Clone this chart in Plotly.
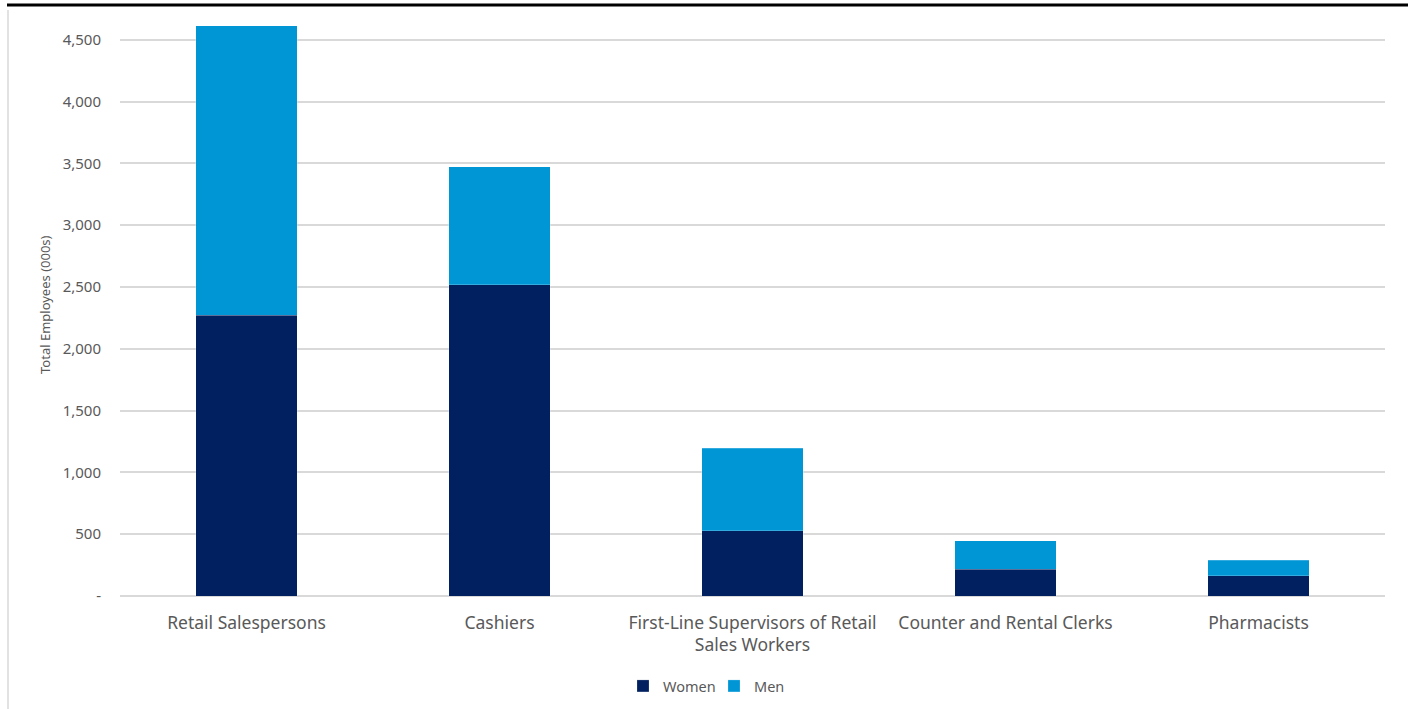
import plotly.graph_objects as go

categories = ["Retail Salespersons", "Cashiers", "First-Line Supervisors of Retail<br>Sales Workers",
              "Counter and Rental Clerks", "Pharmacists"]
women = [2273, 2516, 526, 218, 162]
men_total = [4612, 3471, 1197, 445, 291]
men = [t - w for t, w in zip(men_total, women)]
tick_vals = [0, 500, 1000, 1500, 2000, 2500, 3000, 3500, 4000, 4500]
tick_text = ["-", "500", "1,000", "1,500", "2,000", "2,500", "3,000", "3,500", "4,000", "4,500"]

FONT = "Noto Sans, Open Sans, sans-serif"
GRAY = "#595959"

fig = go.Figure()
fig.add_trace(go.Bar(name="Women", x=categories, y=women,
                     marker=dict(color="#002060", line=dict(color="rgba(255,255,255,0.4)", width=0.5))))
fig.add_trace(go.Bar(name="Men", x=categories, y=men,
                     marker=dict(color="#0096D6", line=dict(color="rgba(255,255,255,0.4)", width=0.5))))

L, R, T, B = 120, 30, 15, 113
W, H = 1415, 709
pw = W - L - R
ph = H - T - B

def px(x):
    return (x - L) / pw

def py(y):
    return (H - B - y) / ph

fig.update_layout(
    barmode="stack",
    bargap=0.6,
    width=W, height=H,
    margin=dict(l=L, r=R, t=T, b=B, autoexpand=False),
    plot_bgcolor="white", paper_bgcolor="white",
    font=dict(family=FONT, color=GRAY, size=13),
    showlegend=True,
    legend=dict(orientation="h", xref="container", yref="container",
                x=(712 + 2) / W, xanchor="center", y=(H - 686) / H, yanchor="middle",
                font=dict(size=14.5, color=GRAY), traceorder="normal", itemwidth=30,
                entrywidth=46, entrywidthmode="pixels"),
    xaxis=dict(showgrid=False, showline=False, tickfont=dict(size=17.5, color=GRAY), ticks="",
               ticklabelstandoff=14, automargin=False),
    yaxis=dict(range=[0, 4700], tickvals=tick_vals, ticktext=tick_text, showgrid=True,
               gridcolor="#d9d9d9", gridwidth=1.5, zeroline=True, zerolinecolor="#d9d9d9",
               zerolinewidth=1.5, ticks="", tickfont=dict(size=15, color=GRAY), ticklabelstandoff=18,
               automargin=False),
    annotations=[dict(text="Total Employees (000s)", xref="paper", yref="paper", x=px(45), y=py(305),
                      xanchor="center", yanchor="middle", textangle=-90, showarrow=False,
                      font=dict(size=13, color=GRAY))],
    shapes=[
        dict(type="line", xref="paper", yref="paper", x0=px(7), x1=px(1408), y0=py(5), y1=py(5),
             line=dict(color="black", width=3)),
        dict(type="line", xref="paper", yref="paper", x0=px(8), x1=px(8), y0=py(10), y1=py(709),
             line=dict(color="#d9d9d9", width=1.5)),
    ],
)

fig.write_html("out.html", config={"displayModeBar": False},
               post_script="document.body.style.margin='0';document.body.style.padding='0';")
